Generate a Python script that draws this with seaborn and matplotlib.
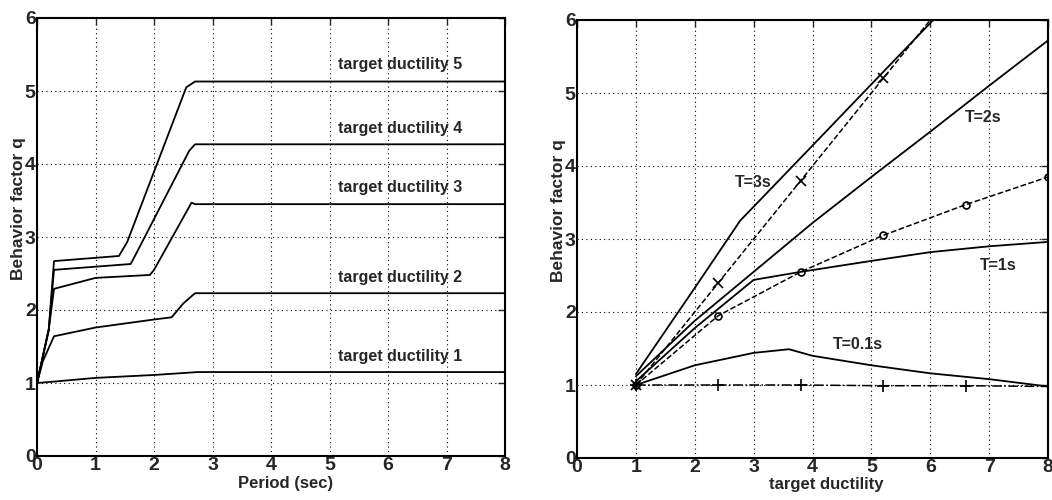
import seaborn as sns
import matplotlib.pyplot as plt

# left panel: behavior factor vs period, one curve per target ductility
period_1 = [0, 0.3, 1, 2, 2.75, 8]
q_duct_1 = [1.0, 1.02, 1.07, 1.11, 1.15, 1.15]

period_2 = [0, 0.1, 0.29, 1, 2, 2.3, 2.5, 2.7, 8]
q_duct_2 = [1.0, 1.3, 1.64, 1.76, 1.87, 1.9, 2.09, 2.23, 2.23]

period_3 = [0, 0.2, 0.29, 1, 1.93, 2.0, 2.64, 2.7, 8]
q_duct_3 = [1.0, 1.73, 2.29, 2.44, 2.48, 2.55, 3.47, 3.45, 3.45]

period_4 = [0, 0.2, 0.29, 1.6, 1.68, 2.6, 2.7, 8]
q_duct_4 = [1.0, 1.73, 2.55, 2.63, 2.75, 4.18, 4.27, 4.27]

period_5 = [0, 0.2, 0.29, 1.4, 1.54, 2.55, 2.7, 8]
q_duct_5 = [1.0, 1.73, 2.67, 2.74, 2.93, 5.05, 5.13, 5.13]

duct_labels = ['target ductility 1', 'target ductility 2', 'target ductility 3',
               'target ductility 4', 'target ductility 5']

# right panel: behavior factor vs target ductility
mu_3s = [1, 2, 2.77, 4, 5, 6.05]
q_3s = [1.15, 2.33, 3.25, 4.28, 5.12, 6.0]

mu_2s = [1, 2, 3, 4, 5, 6, 7, 8]
q_2s = [1.12, 1.88, 2.55, 3.22, 3.85, 4.47, 5.1, 5.72]

mu_1s = [1, 2, 3, 3.8, 5, 6, 7, 8]
q_1s = [1.05, 1.78, 2.44, 2.55, 2.7, 2.82, 2.9, 2.96]

mu_01s = [1, 2, 3, 3.6, 4, 5, 6, 7, 8]
q_01s = [1.0, 1.27, 1.44, 1.49, 1.4, 1.27, 1.16, 1.08, 0.98]

mu_marks = [1, 2.4, 3.8, 5.2, 6.6, 8]
q_x_marks = [1.0, 2.4, 3.8, 5.2, 6.6, 8.0]
q_o_marks = [1.0, 1.95, 2.55, 3.05, 3.47, 3.85]
q_plus_marks = [1.0, 1.0, 1.0, 0.99, 0.99, 0.98]

sns.set_style('white')
plt.rcParams['font.family'] = ['Liberation Sans', 'DejaVu Sans']

fig = plt.figure(figsize=(10.52, 5.0), dpi=100)
ax1 = fig.add_axes([0.0352, 0.088, 0.445, 0.876])
ax2 = fig.add_axes([0.5485, 0.084, 0.4477, 0.876])

lw = 1.3
for px, qy in [(period_1, q_duct_1), (period_2, q_duct_2), (period_3, q_duct_3),
               (period_4, q_duct_4), (period_5, q_duct_5)]:
    sns.lineplot(x=px, y=qy, ax=ax1, color='k', lw=lw, sort=False, estimator=None)

label_y = [1.36, 2.45, 3.68, 4.49, 5.36]
for txt, yy in zip(duct_labels, label_y):
    ax1.text(5.15, yy, txt, fontsize=11.5, fontweight='bold', va='center', ha='left')

# solid curves
for mx, qy in [(mu_3s, q_3s), (mu_2s, q_2s), (mu_1s, q_1s), (mu_01s, q_01s)]:
    sns.lineplot(x=mx, y=qy, ax=ax2, color='k', lw=lw, sort=False, estimator=None)

# dashed curves with markers
sns.lineplot(x=mu_marks, y=q_x_marks, ax=ax2, color='k', lw=1.1, linestyle='--',
             marker='x', markersize=6.5, mec='k', mew=1.2, sort=False, estimator=None)
sns.lineplot(x=mu_marks, y=q_o_marks, ax=ax2, color='k', lw=1.1, linestyle='--',
             marker='o', markersize=5, mfc='none', mec='k', mew=1.2, sort=False, estimator=None)
sns.lineplot(x=mu_marks, y=q_plus_marks, ax=ax2, color='k', lw=1.1, linestyle='-.',
             marker='+', markersize=8, mec='k', mew=1.2, sort=False, estimator=None)

ax2.text(2.68, 3.78, 'T=3s', fontsize=11.5, fontweight='bold', va='center', ha='left')
ax2.text(6.59, 4.66, 'T=2s', fontsize=11.5, fontweight='bold', va='center', ha='left')
ax2.text(6.84, 2.64, 'T=1s', fontsize=11.5, fontweight='bold', va='center', ha='left')
ax2.text(4.35, 1.55, 'T=0.1s', fontsize=11.5, fontweight='bold', va='center', ha='left')

for ax, xl, ly in [(ax1, 'Period (sec)', -0.046), (ax2, 'target ductility', -0.044)]:
    ax.set_xlim(0, 8)
    ax.set_ylim(0, 6)
    ax.set_xticks(range(0, 9))
    ax.set_yticks(range(0, 7))
    ax.grid(True, color='k', linestyle=(0, (1, 3)), lw=0.8)
    ax.tick_params(direction='in', top=True, right=True, length=5, width=1,
                   labelsize=14, pad=1)
    for lab in ax.get_xticklabels() + ax.get_yticklabels():
        lab.set_fontweight('bold')
    for sp in ax.spines.values():
        sp.set_visible(True)
        sp.set_color('k')
        sp.set_linewidth(1.5)
    ax.set_xlabel(xl, fontsize=12, fontweight='bold')
    ax.set_ylabel('Behavior factor q', fontsize=12.5, fontweight='bold')
    ax.xaxis.set_label_coords(0.53, ly)
    ax.yaxis.set_label_coords(-0.024, 0.566)

fig.savefig('out.png', dpi=100)
